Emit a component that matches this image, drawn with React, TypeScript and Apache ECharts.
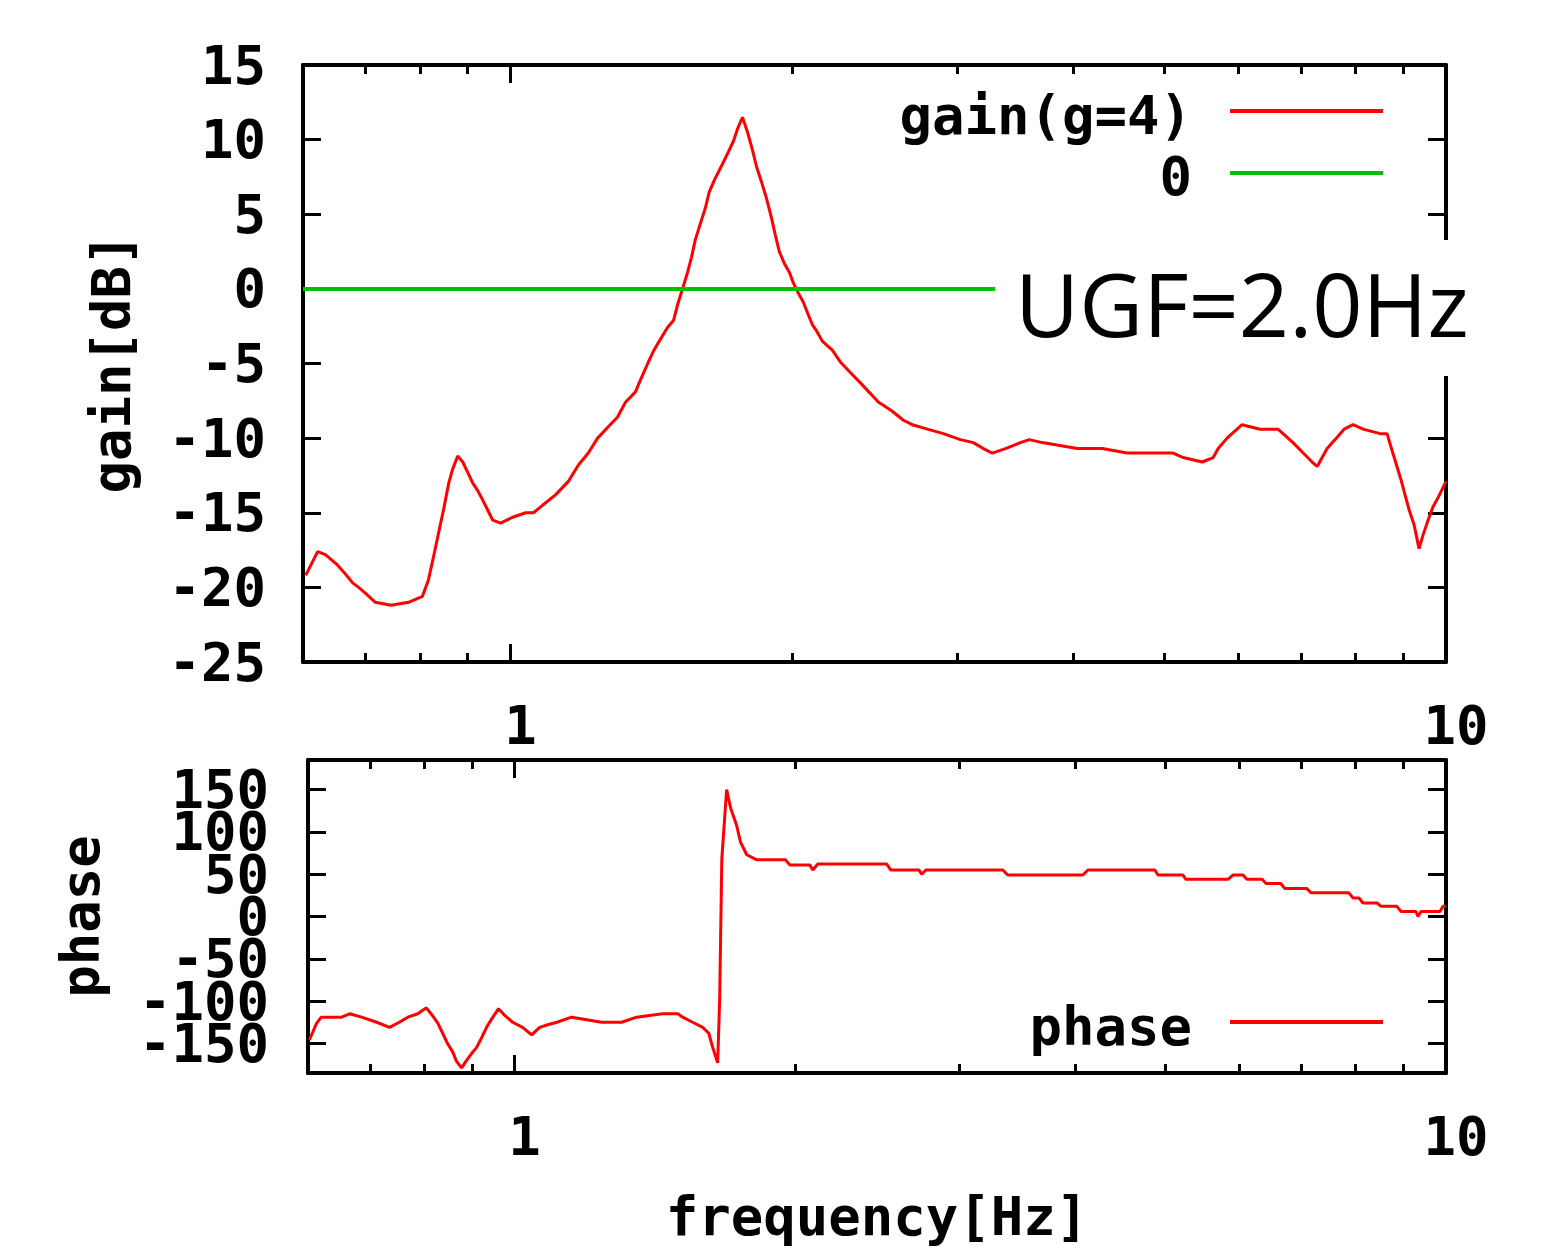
import React, { useEffect, useRef } from "react";
import * as echarts from "echarts";

// ---------- data ----------
const freqMin = 0.6;
const freqMax = 10;
const majorFreqTicks = [1, 10];
const minorFreqTicks = [0.7, 0.8, 0.9, 2, 3, 4, 5, 6, 7, 8, 9];
const gainTicksMin = -25;
const gainTicksMax = 15;
const gainTickStep = 5;
const phaseTicks = [-150, -100, -50, 0, 50, 100, 150];
const phaseMin = -185;
const phaseMax = 185;

const gainFreq = [
  0.604, 0.622, 0.634, 0.653, 0.666, 0.678, 0.688, 0.7, 0.717, 0.745,
  0.778, 0.805, 0.817, 0.829, 0.84, 0.848, 0.859, 0.867, 0.878, 0.889,
  0.9, 0.911, 0.922, 0.933, 0.945, 0.957, 0.976, 1.005, 1.038, 1.058,
  1.082, 1.117, 1.153, 1.182, 1.211, 1.239, 1.269, 1.301, 1.327, 1.36,
  1.377, 1.404, 1.421, 1.439, 1.471, 1.494, 1.508, 1.527, 1.546, 1.561,
  1.576, 1.596, 1.615, 1.631, 1.652, 1.689, 1.71, 1.731, 1.748, 1.77,
  1.792, 1.814, 1.832, 1.854, 1.877, 1.9, 1.919, 1.938, 1.962, 1.987,
  2.006, 2.031, 2.056, 2.077, 2.102, 2.128, 2.154, 2.208, 2.252, 2.308,
  2.366, 2.424, 2.474, 2.503, 2.559, 2.63, 2.688, 2.79, 2.902, 3.026,
  3.124, 3.202, 3.273, 3.381, 3.507, 3.585, 3.702, 4.035, 4.29, 4.563,
  5.109, 5.236, 5.487, 5.638, 5.708, 5.834, 5.979, 6.053, 6.327, 6.613,
  6.695, 6.862, 7.036, 7.193, 7.283, 7.372, 7.463, 7.611, 7.781, 7.955,
  8.153, 8.502, 8.65, 8.735, 8.843, 8.952, 9.041, 9.131, 9.244, 9.358,
  9.45, 9.568, 9.686, 9.806, 9.927, 10.0,
];
const gainDb = [
  -19.2, -17.6, -17.8, -18.5, -19.1, -19.7, -20.0, -20.4, -21.0, -21.2,
  -21.0, -20.6, -19.5, -17.7, -16.0, -14.8, -13.0, -12.1, -11.2, -11.6,
  -12.3, -13.0, -13.5, -14.1, -14.8, -15.5, -15.7, -15.3, -15.0, -15.0,
  -14.5, -13.8, -12.9, -11.8, -11.0, -10.0, -9.3, -8.6, -7.6, -6.9,
  -6.1, -4.9, -4.2, -3.6, -2.6, -2.1, -1.1, 0.0, 1.1, 2.1,
  3.3, 4.4, 5.4, 6.5, 7.3, 8.5, 9.2, 9.9, 10.7, 11.5,
  10.5, 9.3, 8.2, 7.2, 6.1, 4.8, 3.6, 2.5, 1.7, 1.1,
  0.4, -0.3, -0.9, -1.6, -2.4, -2.9, -3.5, -4.1, -4.9, -5.6,
  -6.3, -7.0, -7.6, -7.8, -8.2, -8.8, -9.1, -9.4, -9.7, -10.1,
  -10.3, -10.7, -11.0, -10.7, -10.3, -10.1, -10.3, -10.7, -10.7, -11.0,
  -11.0, -11.3, -11.6, -11.3, -10.7, -10.0, -9.4, -9.1, -9.4, -9.4,
  -9.7, -10.3, -11.0, -11.6, -11.9, -11.3, -10.7, -10.1, -9.4, -9.1,
  -9.4, -9.7, -9.7, -10.6, -11.7, -12.8, -13.8, -14.8, -15.8, -17.4,
  -16.5, -15.5, -14.6, -14.0, -13.3, -12.9,
];
const zeroFreq = [0.6, 10];
const zeroDb = [0, 0];

const phaseFreq = [
  0.602, 0.613, 0.62, 0.652, 0.665, 0.685, 0.711, 0.734, 0.752, 0.768,
  0.787, 0.804, 0.816, 0.827, 0.837, 0.847, 0.858, 0.866, 0.877, 0.888,
  0.899, 0.91, 0.922, 0.933, 0.945, 0.961, 0.976, 0.995, 1.02, 1.043,
  1.064, 1.085, 1.11, 1.151, 1.24, 1.303, 1.352, 1.442, 1.497, 1.515,
  1.553, 1.592, 1.616, 1.632, 1.652, 1.66, 1.669, 1.689, 1.706, 1.731,
  1.748, 1.775, 1.82, 1.954, 1.974, 2.074, 2.09, 2.116, 2.509, 2.534,
  2.716, 2.736, 2.764, 3.343, 3.384, 4.075, 4.126, 4.869, 4.906, 5.219,
  5.257, 5.833, 5.905, 6.053, 6.112, 6.346, 6.409, 6.647, 6.714, 7.089,
  7.161, 7.866, 7.944, 8.064, 8.143, 8.431, 8.515, 8.857, 8.946, 9.286,
  9.331, 9.4, 9.853, 9.926, 10.0,
];
const phaseDeg = [
  -146, -126, -119, -119, -115, -119, -125, -131, -125, -119,
  -115, -108, -117, -126, -138, -150, -160, -171, -179, -170,
  -162, -155, -143, -131, -121, -109, -117, -125, -131, -140,
  -131, -128, -125, -119, -125, -125, -119, -115, -115, -119,
  -125, -131, -138, -155, -173, -100, 68, 150, 128, 108,
  88, 73, 67, 67, 61, 61, 55, 62, 62, 55,
  55, 50, 55, 55, 49, 49, 55, 55, 49, 49,
  44, 44, 49, 49, 44, 44, 39, 39, 33, 33,
  28, 28, 22, 22, 16, 16, 12, 12, 6, 6,
  0, 6, 6, 12, 12,
];

const gainLegend = "gain(g=4)";
const zeroLegend = "0";
const phaseLegend = "phase";
const ugfText = "UGF=2.0Hz";

// ---------- helpers ----------
const lg = (v: number) => Math.log10(v);
const FONT = "DejaVu Sans Mono";
const FS = 54;
const tickFont = { fontFamily: FONT, fontWeight: "bold" as const, fontSize: FS, color: "#000", lineHeight: 40 };
const axisLineStyle = { color: "#000", width: 4 };
const tickLineStyle = { color: "#000", width: 3 };

function freqAxes(gridIndex: number, name?: string) {
  const majorVals = majorFreqTicks.map(lg);
  const minorVals = minorFreqTicks.map(lg);
  const common = {
    type: "value",
    gridIndex,
    min: lg(freqMin),
    max: lg(freqMax),
    splitLine: { show: false },
  };
  return [
    {
      ...common,
      position: "bottom",
      axisLine: { show: true, onZero: false, lineStyle: axisLineStyle },
      axisTick: { show: true, inside: true, length: 18, customValues: majorVals, lineStyle: tickLineStyle },
      axisLabel: {
        show: true,
        customValues: majorVals,
        showMinLabel: true,
        showMaxLabel: true,
        formatter: (v: number) => String(Math.round(Math.pow(10, v))),
        margin: 43,
        padding: [0, 0, 0, 20],
        ...tickFont,
      },
      name: name || "",
      nameLocation: "middle",
      nameGap: 123,
      nameTextStyle: { ...tickFont },
    },
    {
      ...common,
      position: "bottom",
      axisLine: { show: false, onZero: false },
      axisTick: { show: true, inside: true, length: 9, customValues: minorVals, lineStyle: tickLineStyle },
      axisLabel: { show: false },
    },
    {
      ...common,
      position: "top",
      axisLine: { show: true, onZero: false, lineStyle: axisLineStyle },
      axisTick: { show: true, inside: true, length: 18, customValues: majorVals, lineStyle: tickLineStyle },
      axisLabel: { show: false },
    },
    {
      ...common,
      position: "top",
      axisLine: { show: false, onZero: false },
      axisTick: { show: true, inside: true, length: 9, customValues: minorVals, lineStyle: tickLineStyle },
      axisLabel: { show: false },
    },
  ];
}

function buildOption() {
  const gainData = gainFreq.map((f, i) => [lg(f), gainDb[i]]);
  const zeroData = zeroFreq.map((f, i) => [lg(f), zeroDb[i]]);
  const phaseData = phaseFreq.map((f, i) => [lg(f), phaseDeg[i]]);

  // phase tick labels sit closer than their glyph height, so they are split
  // across two overlaid left axes (alternate labels) to keep all of them.
  const phaseLabelsA = phaseTicks.filter((_, i) => i % 2 === 0);
  const phaseLabelsB = phaseTicks.filter((_, i) => i % 2 === 1);

  const gainYCommon = {
    type: "value",
    gridIndex: 0,
    min: gainTicksMin,
    max: gainTicksMax,
    interval: gainTickStep,
    splitLine: { show: false },
    axisLine: { show: true, onZero: false, lineStyle: axisLineStyle },
    axisTick: { show: true, inside: true, length: 18, lineStyle: tickLineStyle },
  };
  const phaseYCommon = {
    type: "value",
    gridIndex: 1,
    min: phaseMin,
    max: phaseMax,
    splitLine: { show: false },
    axisLine: { show: true, onZero: false, lineStyle: axisLineStyle },
    axisTick: { show: true, inside: true, length: 18, customValues: phaseTicks, lineStyle: tickLineStyle },
  };

  const legendText = { fontFamily: FONT, fontWeight: "bold", fontSize: FS, fill: "#000", align: "right", verticalAlign: "middle" };

  return {
    animation: false,
    backgroundColor: "#ffffff",
    grid: [
      { left: 303, top: 65, width: 1143, height: 597, containLabel: false },
      { left: 308, top: 760, width: 1138, height: 313, containLabel: false },
    ],
    xAxis: [...freqAxes(0), ...freqAxes(1, "frequency[Hz]")],
    yAxis: [
      {
        ...gainYCommon,
        position: "left",
        axisLabel: { show: true, margin: 37, showMinLabel: true, showMaxLabel: true, ...tickFont },
        name: "gain[dB]",
        nameLocation: "middle",
        nameGap: 172,
        nameTextStyle: { ...tickFont },
      },
      { ...gainYCommon, position: "right", axisLabel: { show: false } },
      {
        ...phaseYCommon,
        position: "left",
        axisLabel: {
          show: true,
          customValues: phaseLabelsA,
          showMinLabel: true,
          showMaxLabel: true,
          margin: 39,
          ...tickFont,
        },
        name: "phase",
        nameLocation: "middle",
        nameGap: 208,
        nameTextStyle: { ...tickFont },
      },
      { ...phaseYCommon, position: "right", axisLabel: { show: false } },
      {
        ...phaseYCommon,
        position: "left",
        axisLine: { show: false, onZero: false },
        axisTick: { show: false },
        axisLabel: {
          show: true,
          customValues: phaseLabelsB,
          showMinLabel: true,
          showMaxLabel: true,
          margin: 39,
          ...tickFont,
        },
      },
    ],
    series: [
      {
        name: gainLegend,
        type: "line",
        xAxisIndex: 0,
        yAxisIndex: 0,
        data: gainData,
        symbol: "none",
        lineStyle: { color: "#ff0000", width: 3 },
        z: 3,
      },
      {
        name: zeroLegend,
        type: "line",
        xAxisIndex: 0,
        yAxisIndex: 0,
        data: zeroData,
        symbol: "none",
        lineStyle: { color: "#00c000", width: 4 },
        z: 4,
      },
      {
        name: phaseLegend,
        type: "line",
        xAxisIndex: 4,
        yAxisIndex: 2,
        data: phaseData,
        symbol: "none",
        lineStyle: { color: "#ff0000", width: 3 },
        z: 3,
      },
    ],
    graphic: [
      // UGF annotation box (white background hides line & frame)
      {
        type: "rect",
        z: 100,
        shape: { x: 995, y: 240, width: 568, height: 136 },
        style: { fill: "#ffffff" },
      },
      {
        type: "text",
        z: 101,
        x: 1015,
        y: 303,
        style: {
          text: ugfText,
          fontFamily: "Open Sans",
          fontSize: 88,
          fill: "#000",
          align: "left",
          verticalAlign: "middle",
        },
      },
      // legends
      { type: "text", z: 101, x: 1192, y: 115, style: { text: gainLegend, ...legendText } },
      {
        type: "line",
        z: 101,
        shape: { x1: 1230, y1: 111, x2: 1383, y2: 111 },
        style: { stroke: "#ff0000", lineWidth: 4 },
      },
      { type: "text", z: 101, x: 1192, y: 176, style: { text: zeroLegend, ...legendText } },
      {
        type: "line",
        z: 101,
        shape: { x1: 1230, y1: 173, x2: 1383, y2: 173 },
        style: { stroke: "#00c000", lineWidth: 4 },
      },
      { type: "text", z: 101, x: 1192, y: 1026, style: { text: phaseLegend, ...legendText } },
      {
        type: "line",
        z: 101,
        shape: { x1: 1230, y1: 1022, x2: 1383, y2: 1022 },
        style: { stroke: "#ff0000", lineWidth: 4 },
      },
    ],
  };
}

export default function App() {
  const ref = useRef<HTMLDivElement>(null);
  useEffect(() => {
    if (!ref.current) return;
    const chart = echarts.init(ref.current, null, { renderer: "svg" });
    chart.setOption(buildOption() as any);
    return () => {
      chart.dispose();
    };
  }, []);
  return (
    <div
      ref={ref}
      style={{ position: "absolute", left: 0, top: 0, width: 1563, height: 1249, background: "#fff" }}
    />
  );
}
